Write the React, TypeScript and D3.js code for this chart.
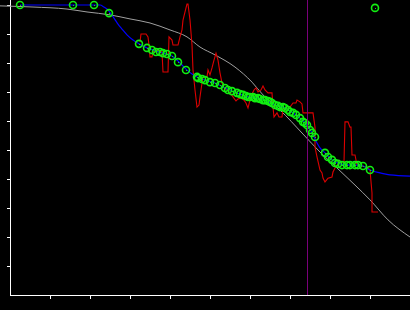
import React from "react";
import * as d3 from "d3";

const W = 410;
const H = 310;

// x: 0..10 units, y: 0..1 units
const xTicks = [1, 2, 3, 4, 5, 6, 7, 8, 9];
const yTicks = [0.1, 0.2, 0.3, 0.4, 0.5, 0.6, 0.7, 0.8, 0.9, 1.0];

const greyCurve: [number, number][] = [
  [-0.25, 0.997], [0.575, 0.993], [1.425, 0.986], [1.925, 0.976], [2.5, 0.966],
  [3.0, 0.952], [3.5, 0.938], [4.0, 0.914], [4.425, 0.89], [4.75, 0.855],
  [5.125, 0.828], [5.625, 0.786], [6.05, 0.734], [6.325, 0.69], [6.75, 0.638],
  [7.325, 0.555], [7.75, 0.493], [8.175, 0.438], [8.625, 0.379], [9.0, 0.328],
  [9.45, 0.259], [10.0, 0.2],
];

const blueFit: [number, number][] = [
  [0.25, 1.0], [2.25, 1.0], [2.35, 0.993], [2.45, 0.983], [2.525, 0.969],
  [2.6, 0.955], [2.7, 0.934], [2.8, 0.917], [2.925, 0.897], [3.075, 0.879],
  [3.225, 0.866], [3.425, 0.852], [3.65, 0.841], [3.825, 0.834], [4.05, 0.824],
  [4.2, 0.807], [4.4, 0.779], [4.55, 0.762], [4.675, 0.752], [4.875, 0.741],
  [5.125, 0.731], [5.375, 0.714], [5.675, 0.697], [5.95, 0.683], [6.2, 0.679],
  [6.375, 0.672], [6.625, 0.655], [6.875, 0.645], [7.075, 0.628], [7.25, 0.61],
  [7.425, 0.586], [7.55, 0.559], [7.675, 0.524], [7.75, 0.507], [7.875, 0.49],
  [8.05, 0.466], [8.25, 0.452], [8.5, 0.448], [8.7, 0.448], [8.825, 0.445],
  [9.0, 0.431], [9.25, 0.421], [9.5, 0.414], [10.0, 0.41],
];

const redTrace: [number, number][] = [
  [3.25, 0.872], [3.275, 0.9], [3.4, 0.9], [3.45, 0.89], [3.475, 0.862],
  [3.5, 0.821], [3.55, 0.821], [3.575, 0.838], [3.675, 0.845], [3.8, 0.838],
  [3.825, 0.769], [3.95, 0.769], [3.975, 0.89], [4.05, 0.879], [4.075, 0.862],
  [4.2, 0.862], [4.25, 0.89], [4.3, 0.914], [4.325, 0.948], [4.4, 0.99],
  [4.425, 1.003], [4.45, 1.003], [4.475, 0.976], [4.5, 0.948], [4.55, 0.862],
  [4.575, 0.776], [4.625, 0.707], [4.675, 0.648], [4.725, 0.655], [4.75, 0.683],
  [4.8, 0.731], [4.825, 0.752], [4.925, 0.752], [4.95, 0.776], [5.0, 0.759],
  [5.05, 0.783], [5.1, 0.81], [5.15, 0.834], [5.2, 0.81], [5.25, 0.766],
  [5.3, 0.731], [5.35, 0.714], [5.425, 0.707], [5.5, 0.697], [5.575, 0.683],
  [5.65, 0.669], [5.7, 0.676], [5.775, 0.679], [5.85, 0.672], [5.9, 0.662],
  [5.95, 0.645], [6.0, 0.672], [6.05, 0.693], [6.1, 0.707], [6.15, 0.714],
  [6.2, 0.7], [6.275, 0.707], [6.325, 0.721], [6.375, 0.707], [6.45, 0.697],
  [6.55, 0.697], [6.575, 0.648], [6.6, 0.614], [6.675, 0.628], [6.725, 0.614],
  [6.8, 0.614], [6.825, 0.645], [6.9, 0.638], [7.0, 0.648], [7.075, 0.662],
  [7.15, 0.662], [7.175, 0.672], [7.25, 0.666], [7.3, 0.659], [7.325, 0.628],
  [7.575, 0.628], [7.625, 0.579], [7.625, 0.51], [7.675, 0.476], [7.75, 0.431],
  [7.8, 0.421], [7.825, 0.403], [7.875, 0.39], [7.95, 0.403], [8.05, 0.407],
  [8.075, 0.424], [8.125, 0.438], [8.175, 0.448], [8.25, 0.459], [8.35, 0.459],
  [8.375, 0.597], [8.45, 0.597], [8.5, 0.579], [8.525, 0.579], [8.55, 0.483],
  [8.625, 0.483], [8.675, 0.448], [8.925, 0.441], [9.0, 0.431], [9.05, 0.352],
  [9.05, 0.286], [9.2, 0.286],
];

const greenPoints: [number, number][] = [
  [0.25, 1.0], [1.575, 1.0], [2.1, 1.0], [2.475, 0.972], [3.225, 0.866],
  [3.425, 0.852], [3.55, 0.845], [3.65, 0.838], [3.75, 0.838], [3.825, 0.834],
  [3.925, 0.831], [4.05, 0.824], [4.2, 0.803], [4.4, 0.776], [4.675, 0.752],
  [4.7, 0.748], [4.8, 0.745], [4.875, 0.741], [5.0, 0.734], [5.125, 0.731],
  [5.25, 0.724], [5.375, 0.714], [5.45, 0.707], [5.55, 0.703], [5.675, 0.697],
  [5.75, 0.693], [5.825, 0.69], [5.9, 0.686], [5.95, 0.683], [6.0, 0.683],
  [6.075, 0.683], [6.125, 0.679], [6.2, 0.679], [6.25, 0.676], [6.325, 0.672],
  [6.375, 0.672], [6.45, 0.669], [6.5, 0.666], [6.55, 0.662], [6.625, 0.655],
  [6.7, 0.652], [6.75, 0.648], [6.825, 0.648], [6.875, 0.645], [6.95, 0.638],
  [7.0, 0.631], [7.075, 0.628], [7.15, 0.621], [7.25, 0.61], [7.325, 0.597],
  [7.375, 0.593], [7.425, 0.586], [7.5, 0.569], [7.55, 0.559], [7.625, 0.545],
  [7.875, 0.49], [7.95, 0.476], [8.05, 0.466], [8.125, 0.455], [8.2, 0.452],
  [8.3, 0.448], [8.425, 0.448], [8.5, 0.448], [8.625, 0.448], [8.7, 0.448],
  [8.825, 0.445], [9.0, 0.431], [9.125, 0.99],
];

const markerX = 7.425;

export default function App() {
  const x = d3.scaleLinear().domain([0, 10]).range([10, 410]);
  const y = d3.scaleLinear().domain([0, 1]).range([295, 5]);

  const smooth = d3
    .line<[number, number]>()
    .x((d) => x(d[0]))
    .y((d) => y(d[1]))
    .curve(d3.curveMonotoneX);
  const straight = d3
    .line<[number, number]>()
    .x((d) => x(d[0]))
    .y((d) => y(d[1]));

  const green = "#11ee11";

  return (
    <svg
      width={W}
      height={H}
      style={{ position: "absolute", left: 0, top: 0, display: "block" }}
    >
      <rect x={0} y={0} width={W} height={H} fill="#000" />
      <g stroke="#fff" strokeWidth={1} shapeRendering="crispEdges">
        <line x1={x(0) + 0.5} x2={x(0) + 0.5} y1={0} y2={y(0) + 0.5} />
        <line x1={x(0)} x2={W} y1={y(0) + 0.5} y2={y(0) + 0.5} />
        {yTicks.map((t) => (
          <line key={"y" + t} x1={x(0) - 3} x2={x(0)} y1={Math.round(y(t)) + 0.5} y2={Math.round(y(t)) + 0.5} />
        ))}
        {xTicks.map((t) => (
          <line key={"x" + t} x1={x(t) + 0.5} x2={x(t) + 0.5} y1={y(0)} y2={y(0) + 4} />
        ))}
      </g>
      <path d={smooth(greyCurve) || ""} fill="none" stroke="#a0a0a0" strokeWidth={1} />
      <path d={straight(redTrace) || ""} fill="none" stroke="#dd0000" strokeWidth={1.1} />
      <path d={smooth(blueFit) || ""} fill="none" stroke="#0000ff" strokeWidth={1.2} />
      <g>
        {greenPoints.map((p, i) => (
          <g key={i}>
            <circle cx={x(p[0])} cy={y(p[1])} r={3.5} fill="none" stroke={green} strokeWidth={1.6} />
            <rect x={Math.round(x(p[0]))} y={Math.round(y(p[1]))} width={1} height={1} fill={green} />
          </g>
        ))}
      </g>
      <line
        x1={Math.round(x(markerX)) + 0.5}
        x2={Math.round(x(markerX)) + 0.5}
        y1={0}
        y2={y(0)}
        stroke="#7a007a"
        strokeWidth={1}
        shapeRendering="crispEdges"
      />
    </svg>
  );
}
